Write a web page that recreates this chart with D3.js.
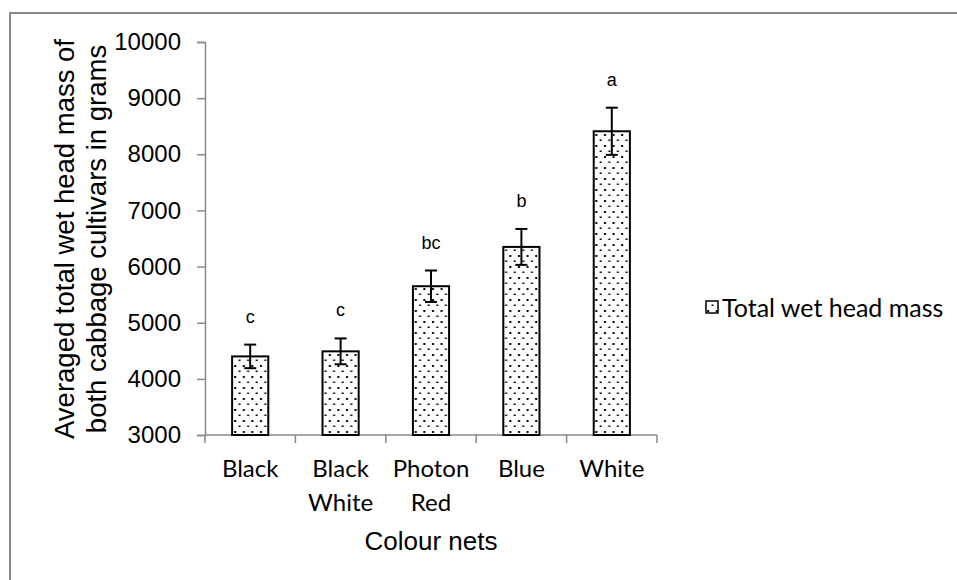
<!DOCTYPE html>
<html>
<head>
<meta charset="utf-8">
<script src="https://cdn.jsdelivr.net/npm/d3@7"></script>
<style>
  html, body { margin: 0; padding: 0; background: #fff; }
  svg { display: block; }
</style>
</head>
<body>
<svg id="chart" width="957" height="580"></svg>
<script>
// Colour nets and the averaged total wet head mass (g) under each
const categories = ["Black", "Black White", "Photon Red", "Blue", "White"];
const categoryLines = [["Black"], ["Black", "White"], ["Photon", "Red"], ["Blue"], ["White"]];
const headMass = [4400, 4490, 5650, 6350, 8410];
const headMassError = [210, 230, 280, 320, 420];
const significance = ["c", "c", "bc", "b", "a"];
const yTicks = [3000, 4000, 5000, 6000, 7000, 8000, 9000, 10000];
const seriesName = "Total wet head mass";

const svg = d3.select("#chart");
const axisGrey = "#898989";

// dotted fill used for the bars and the legend key
const defs = svg.append("defs");
const pat = defs.append("pattern")
  .attr("id", "dots")
  .attr("patternUnits", "userSpaceOnUse")
  .attr("width", 8.6).attr("height", 11);
pat.append("rect").attr("width", 8.6).attr("height", 11).attr("fill", "#fff");
pat.append("rect").attr("x", 2).attr("y", 2).attr("width", 2).attr("height", 2).attr("fill", "#000");
pat.append("rect").attr("x", 6.3).attr("y", 7.5).attr("width", 2).attr("height", 1.5).attr("fill", "#000");

// chart frame
svg.append("rect")
  .attr("x", 10).attr("y", 13)
  .attr("width", 960).attr("height", 600)
  .attr("fill", "none").attr("stroke", axisGrey).attr("stroke-width", 2);

const x = d3.scaleBand()
  .domain(categories)
  .range([205, 657])
  .paddingInner(0.6)
  .paddingOuter(0.3);

const y = d3.scaleLinear()
  .domain([3000, 10000])
  .range([435, 42]);

// y axis
const yAxis = svg.append("g")
  .attr("transform", "translate(205,0)")
  .call(d3.axisLeft(y).tickValues(yTicks).tickSize(8).tickPadding(16).tickFormat(d3.format("d")));
yAxis.select(".domain").attr("stroke", axisGrey).attr("stroke-width", 1.5);
yAxis.selectAll(".tick line").attr("stroke", axisGrey).attr("stroke-width", 1.5);
yAxis.selectAll(".tick text")
  .attr("fill", "#000")
  .style("font-family", "Liberation Sans, Arial, sans-serif")
  .style("font-size", "24px");

// x axis: baseline with ticks between the categories
const xBase = y(3000);
const step = x.step();
svg.append("line")
  .attr("x1", 205).attr("x2", 657)
  .attr("y1", xBase).attr("y2", xBase)
  .attr("stroke", axisGrey).attr("stroke-width", 1.5);
const boundaries = d3.range(categories.length + 1).map(i => 205 + i * step);
svg.selectAll(".xtick")
  .data(boundaries)
  .join("line")
  .attr("class", "xtick")
  .attr("x1", d => d).attr("x2", d => d)
  .attr("y1", xBase).attr("y2", xBase + 8)
  .attr("stroke", axisGrey).attr("stroke-width", 1.5);

// category labels
const catText = svg.selectAll(".cat")
  .data(categories)
  .join("text")
  .attr("class", "cat")
  .attr("text-anchor", "middle")
  .style("font-family", "Lato, sans-serif")
  .style("font-size", "24px")
  .attr("fill", "#000");
catText.each(function(d, i) {
  const t = d3.select(this);
  categoryLines[i].forEach((line, j) => {
    t.append("tspan")
      .attr("x", x(d) + x.bandwidth() / 2)
      .attr("y", 477 + j * 34)
      .text(line);
  });
});

// bars
svg.selectAll(".bar")
  .data(categories)
  .join("rect")
  .attr("class", "bar")
  .attr("x", d => x(d))
  .attr("width", x.bandwidth())
  .attr("y", (d, i) => y(headMass[i]))
  .attr("height", (d, i) => y(3000) - y(headMass[i]))
  .attr("fill", "url(#dots)")
  .attr("stroke", "#000")
  .attr("stroke-width", 2);

// error bars
const capHalf = 6;
const err = svg.selectAll(".err")
  .data(categories)
  .join("g")
  .attr("class", "err")
  .attr("stroke", "#000")
  .attr("stroke-width", 2);
err.append("line")
  .attr("x1", d => x(d) + x.bandwidth() / 2)
  .attr("x2", d => x(d) + x.bandwidth() / 2)
  .attr("y1", (d, i) => y(headMass[i] + headMassError[i]))
  .attr("y2", (d, i) => y(headMass[i] - headMassError[i]));
err.append("line")
  .attr("x1", d => x(d) + x.bandwidth() / 2 - capHalf)
  .attr("x2", d => x(d) + x.bandwidth() / 2 + capHalf)
  .attr("y1", (d, i) => y(headMass[i] + headMassError[i]))
  .attr("y2", (d, i) => y(headMass[i] + headMassError[i]));
err.append("line")
  .attr("x1", d => x(d) + x.bandwidth() / 2 - capHalf)
  .attr("x2", d => x(d) + x.bandwidth() / 2 + capHalf)
  .attr("y1", (d, i) => y(headMass[i] - headMassError[i]))
  .attr("y2", (d, i) => y(headMass[i] - headMassError[i]));

// significance letters
svg.selectAll(".sig")
  .data(categories)
  .join("text")
  .attr("class", "sig")
  .attr("x", d => x(d) + x.bandwidth() / 2)
  .attr("y", (d, i) => y(headMass[i] + headMassError[i]) - 22)
  .attr("text-anchor", "middle")
  .style("font-family", "Liberation Sans, Arial, sans-serif")
  .style("font-size", "18px")
  .attr("fill", "#000")
  .text((d, i) => significance[i]);

// axis titles
const yTitle = svg.append("text")
  .attr("transform", "translate(0,239) rotate(-90)")
  .attr("text-anchor", "middle")
  .style("font-family", "Liberation Sans, Arial, sans-serif")
  .style("font-size", "27.5px")
  .attr("fill", "#000");
yTitle.append("tspan").attr("x", 0).attr("y", 74).text("Averaged total wet head mass of");
yTitle.append("tspan").attr("x", 0).attr("y", 106).text("both cabbage cultivars in grams");

svg.append("text")
  .attr("x", 431).attr("y", 550)
  .attr("text-anchor", "middle")
  .style("font-family", "Liberation Sans, Arial, sans-serif")
  .style("font-size", "26px")
  .attr("fill", "#000")
  .text("Colour nets");

// legend
svg.append("rect")
  .attr("x", 706).attr("y", 301)
  .attr("width", 12).attr("height", 12)
  .attr("fill", "url(#dots)")
  .attr("stroke", "#000").attr("stroke-width", 1.5);
svg.append("text")
  .attr("x", 722).attr("y", 308)
  .attr("dy", "0.35em")
  .style("font-family", "Lato, sans-serif")
  .style("font-size", "25px")
  .attr("fill", "#000")
  .text(seriesName);
</script>
</body>
</html>
